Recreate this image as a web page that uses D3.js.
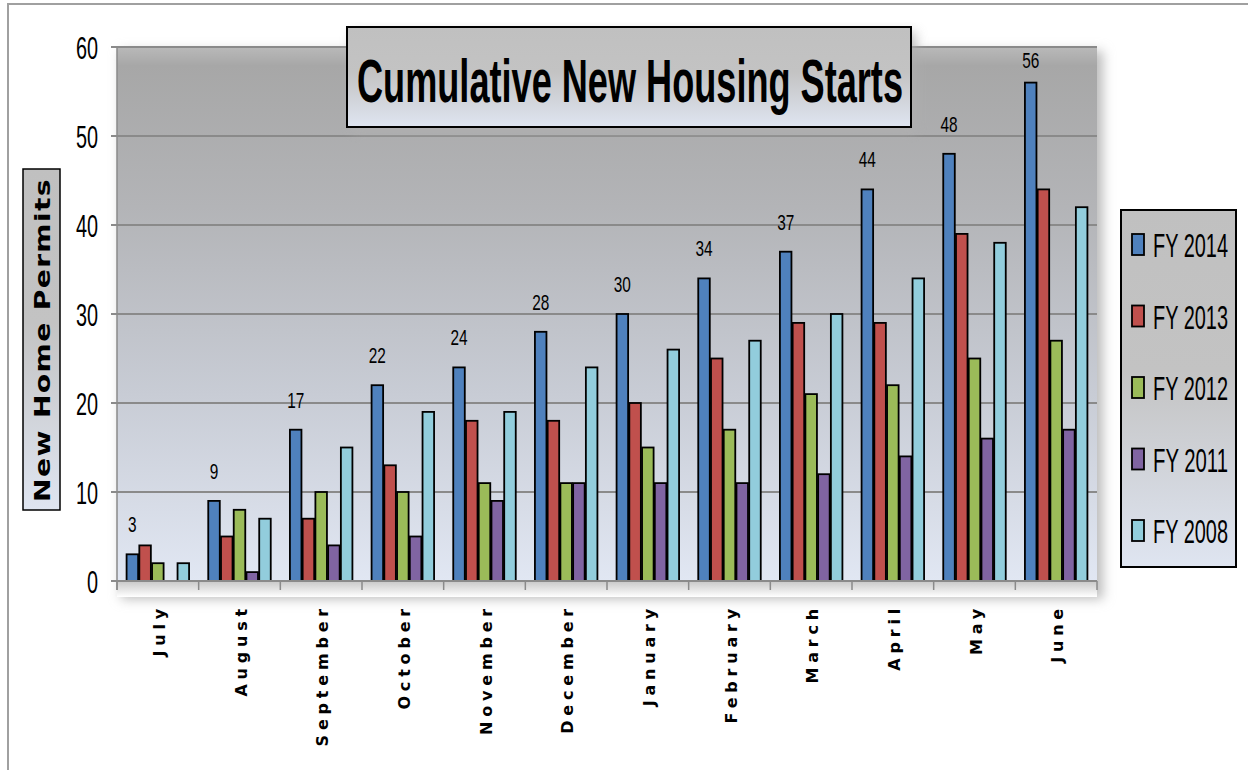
<!DOCTYPE html>
<html>
<head>
<meta charset="utf-8">
<script src="https://cdnjs.cloudflare.com/ajax/libs/d3/7.8.5/d3.min.js"></script>
<style>
  body { margin: 0; background: #fff; }
  svg { display: block; }
</style>
</head>
<body>
<svg id="chart"></svg>
<script>
var months = ["July", "August", "September", "October", "November", "December",
  "January", "February", "March", "April", "May", "June"];
var seriesNames = ["FY 2014", "FY 2013", "FY 2012", "FY 2011", "FY 2008"];
var seriesColors = ["#4f81bd", "#c0504d", "#9bbb59", "#8064a2", "#92cddc"];
var fy2014 = [3, 9, 17, 22, 24, 28, 30, 34, 37, 44, 48, 56];
var fy2013 = [4, 5, 7, 13, 18, 18, 20, 25, 29, 29, 39, 44];
var fy2012 = [2, 8, 10, 10, 11, 11, 15, 17, 21, 22, 25, 27];
var fy2011 = [0, 1, 4, 5, 9, 11, 11, 11, 12, 14, 16, 17];
var fy2008 = [2, 7, 15, 19, 19, 24, 26, 27, 30, 34, 38, 42];
var yTicks = [0, 10, 20, 30, 40, 50, 60];
var seriesValues = [fy2014, fy2013, fy2012, fy2011, fy2008];

var width = 1248, height = 770;
var plot = { left: 117, right: 1097, top: 47, bottom: 581 };
var sans = "'Liberation Sans', Arial, sans-serif";
var wide = "'DejaVu Sans', Verdana, sans-serif";

var svg = d3.select("#chart")
  .attr("width", width)
  .attr("height", height);

var defs = svg.append("defs");

function vGradient(id, stops) {
  var g = defs.append("linearGradient")
    .attr("id", id)
    .attr("x1", 0).attr("y1", 0)
    .attr("x2", 0).attr("y2", 1);
  stops.forEach(function (s) {
    g.append("stop").attr("offset", s[0]).attr("stop-color", s[1]);
  });
}

vGradient("grad-plot", [[0, "#b9b9b9"], [0.035, "#a7a7a7"], [0.3, "#b3b4b7"], [0.65, "#c8ccd5"], [1, "#e1e7f3"]]);
vGradient("grad-box", [[0, "#c0c0c0"], [0.45, "#c3c3c3"], [1, "#dfe5f1"]]);
vGradient("grad-shadow", [[0, "#c8c8c8"], [1, "#ffffff"]]);

var blur = defs.append("filter")
  .attr("id", "soft-shadow")
  .attr("x", "-10%").attr("y", "-10%")
  .attr("width", "130%").attr("height", "140%");
blur.append("feGaussianBlur").attr("stdDeviation", 6);

// squeeze a text horizontally so it looks like a narrow font
function squeeze(text, x, y, scaleX) {
  text.attr("transform", "translate(" + x + "," + y + ") scale(" + scaleX + ",1)");
}

// outer frame
svg.append("path")
  .attr("d", "M8,770 L8,4 L1248,4")
  .style("fill", "none")
  .style("stroke", "#a0a0a0")
  .style("stroke-width", 2);

// shadow around plot area
svg.append("rect")
  .attr("x", plot.left + 4)
  .attr("y", plot.top + 4)
  .attr("width", plot.right - plot.left + 2)
  .attr("height", plot.bottom - plot.top + 14)
  .style("fill", "#bcbcbc")
  .attr("filter", "url(#soft-shadow)");

svg.append("rect")
  .attr("x", plot.left)
  .attr("y", plot.top)
  .attr("width", plot.right - plot.left)
  .attr("height", plot.bottom - plot.top)
  .style("fill", "url(#grad-plot)");

var x0 = d3.scaleBand()
  .domain(months)
  .range([plot.left, plot.right])
  .paddingInner(0.22)
  .paddingOuter(0.11);

var x1 = d3.scaleBand()
  .domain(seriesNames)
  .range([0, x0.bandwidth()]);

var y = d3.scaleLinear()
  .domain([0, 60])
  .range([plot.bottom, plot.top]);

// gridlines
svg.append("g")
  .selectAll("line")
  .data(yTicks.filter(function (d) { return d > 0; }))
  .join("line")
  .attr("x1", plot.left - 6)
  .attr("x2", plot.right)
  .attr("y1", function (d) { return y(d); })
  .attr("y2", function (d) { return y(d); })
  .style("stroke", "#8a8a8a")
  .style("stroke-width", 2);

// y axis labels
svg.append("g")
  .selectAll("text")
  .data(yTicks)
  .join("text")
  .each(function (d) { squeeze(d3.select(this), 98, y(d) + 11.5, 0.62); })
  .attr("text-anchor", "end")
  .style("font-family", sans)
  .style("font-size", "32px")
  .style("fill", "#000")
  .text(function (d) { return d; });

// bars
var groups = svg.append("g")
  .selectAll("g")
  .data(months)
  .join("g")
  .attr("transform", function (m) { return "translate(" + x0(m) + ",0)"; });

groups.selectAll("rect")
  .data(function (m, i) {
    return seriesNames.map(function (s, k) {
      return { series: s, k: k, value: seriesValues[k][i] };
    });
  })
  .join("rect")
  .filter(function (d) { return d.value > 0; })
  .attr("x", function (d) { return x1(d.series) + 0.6; })
  .attr("width", x1.bandwidth() - 1.2)
  .attr("y", function (d) { return y(d.value); })
  .attr("height", function (d) { return y(0) - y(d.value); })
  .style("fill", function (d) { return seriesColors[d.k]; })
  .style("stroke", "#000")
  .style("stroke-width", 1.8);

// data labels for FY 2014
svg.append("g")
  .selectAll("text")
  .data(months)
  .join("text")
  .each(function (m, i) {
    var cx = x0(m) + x1("FY 2014") + x1.bandwidth() / 2;
    var base = Math.max(y(fy2014[i]) - 22, 68);
    squeeze(d3.select(this), cx, base, 0.7);
  })
  .attr("text-anchor", "middle")
  .style("font-family", sans)
  .style("font-size", "22px")
  .style("fill", "#000")
  .text(function (m, i) { return fy2014[i]; });

// x axis
svg.append("rect")
  .attr("x", plot.left)
  .attr("y", plot.bottom)
  .attr("width", plot.right - plot.left)
  .attr("height", 16)
  .style("fill", "url(#grad-shadow)");

svg.append("line")
  .attr("x1", plot.left - 6)
  .attr("x2", plot.right)
  .attr("y1", plot.bottom)
  .attr("y2", plot.bottom)
  .style("stroke", "#8a8a8a")
  .style("stroke-width", 2);

var step = x0.step();
var boundaries = months.map(function (m) { return x0(m) - step * 0.11; });
boundaries.push(plot.right);

svg.append("g")
  .selectAll("line")
  .data(boundaries)
  .join("line")
  .attr("x1", function (d) { return d; })
  .attr("x2", function (d) { return d; })
  .attr("y1", plot.bottom)
  .attr("y2", plot.bottom + 9)
  .style("stroke", "#8a8a8a")
  .style("stroke-width", 1.5);

svg.append("line")
  .attr("x1", plot.left)
  .attr("x2", plot.left)
  .attr("y1", plot.top)
  .attr("y2", plot.bottom + 9)
  .style("stroke", "#8a8a8a")
  .style("stroke-width", 1.5);

svg.append("g")
  .selectAll("text")
  .data(months)
  .join("text")
  .attr("transform", function (m) {
    return "translate(" + (x0(m) + x0.bandwidth() / 2 + 7) + ",604) rotate(-90)";
  })
  .attr("text-anchor", "end")
  .style("font-family", wide)
  .style("font-weight", "bold")
  .style("font-size", "16px")
  .style("letter-spacing", "4.8px")
  .style("fill", "#000")
  .text(function (m) { return m; });

// title box
svg.append("rect")
  .attr("x", 352)
  .attr("y", 32)
  .attr("width", 564)
  .attr("height", 100)
  .style("fill", "#b0b0b0")
  .style("opacity", 0.8)
  .attr("filter", "url(#soft-shadow)");

svg.append("rect")
  .attr("x", 347)
  .attr("y", 27)
  .attr("width", 564)
  .attr("height", 100)
  .style("fill", "url(#grad-box)")
  .style("stroke", "#000")
  .style("stroke-width", 2);

var title = svg.append("text")
  .attr("text-anchor", "middle")
  .style("font-family", sans)
  .style("font-weight", "bold")
  .style("font-size", "61px")
  .style("fill", "#000")
  .text("Cumulative New Housing Starts");
var titleW = title.node().getComputedTextLength();
squeeze(title, 630, 102, 546 / titleW);

// y axis title box
svg.append("rect")
  .attr("x", 23)
  .attr("y", 169)
  .attr("width", 37)
  .attr("height", 341)
  .style("fill", "url(#grad-box)")
  .style("stroke", "#000")
  .style("stroke-width", 1.5);

var yTitle = svg.append("text")
  .attr("text-anchor", "middle")
  .style("font-family", wide)
  .style("font-weight", "bold")
  .style("font-size", "21px")
  .style("letter-spacing", "1px")
  .style("fill", "#000")
  .text("New Home Permits");
var yTitleW = yTitle.node().getComputedTextLength();
yTitle.attr("transform", "translate(50,340) rotate(-90) scale(" + (324 / yTitleW) + ",1)");

// legend
var legend = svg.append("g");

legend.append("rect")
  .attr("x", 1121)
  .attr("y", 210)
  .attr("width", 115)
  .attr("height", 357)
  .style("fill", "url(#grad-box)")
  .style("stroke", "#000")
  .style("stroke-width", 2);

var ly = d3.scalePoint()
  .domain(seriesNames)
  .range([245, 531]);

var items = legend.selectAll("g")
  .data(seriesNames)
  .join("g")
  .attr("transform", function (s) { return "translate(0," + ly(s) + ")"; });

items.append("rect")
  .attr("x", 1132)
  .attr("y", -11)
  .attr("width", 12)
  .attr("height", 21)
  .style("fill", function (s, i) { return seriesColors[i]; })
  .style("stroke", "#000")
  .style("stroke-width", 1.8);

items.append("text")
  .style("font-family", sans)
  .style("font-size", "34px")
  .style("fill", "#000")
  .text(function (s) { return s; })
  .each(function () {
    var t = d3.select(this);
    squeeze(t, 1153, 12, 75 / this.getComputedTextLength());
  });
</script>
</body>
</html>
